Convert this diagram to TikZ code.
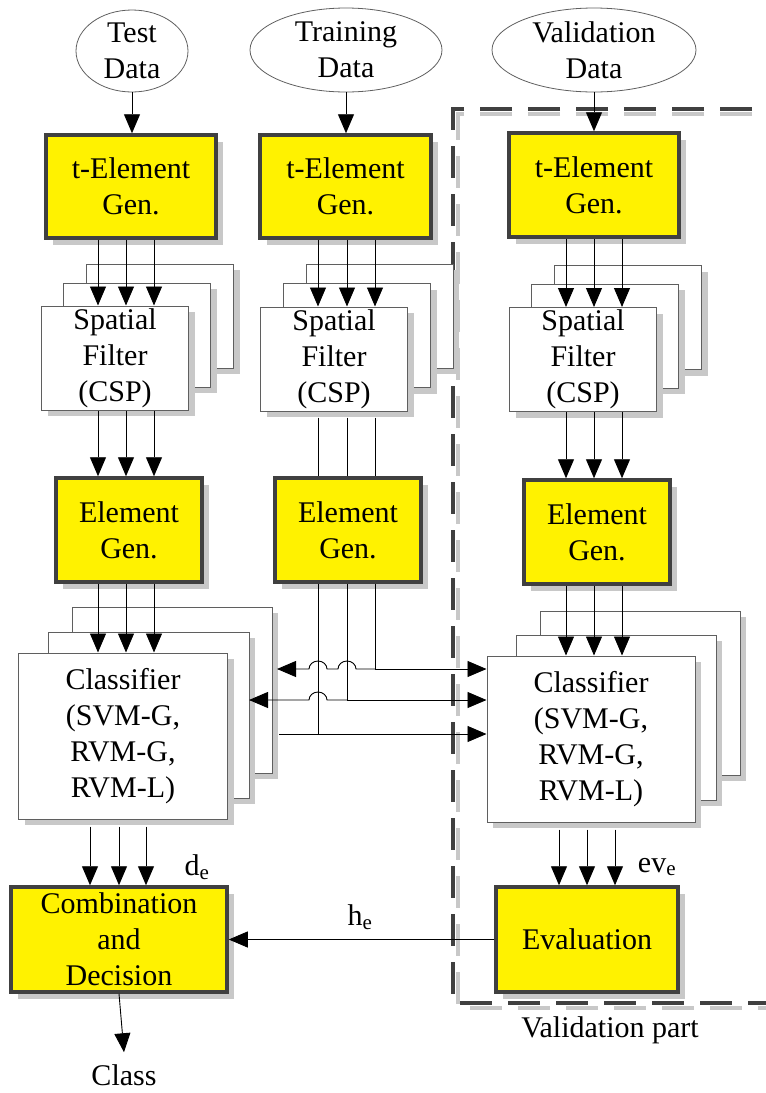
\documentclass[tikz,border=0pt]{standalone}
\usepackage{fontspec}
\setmainfont{Liberation Serif}
\newfontfamily\lserif{Liberation Serif}
\usetikzlibrary{arrows.meta,shapes.geometric,shadows,calc}
\definecolor{dgray}{RGB}{64,64,64}
\definecolor{shad}{RGB}{200,200,200}
\definecolor{bgray}{RGB}{95,95,95}
\begin{document}
\begin{tikzpicture}[x=1pt,y=-1pt,
  every node/.style={font=\lserif\fontsize{30}{36}\selectfont},
  ell/.style={ellipse, draw=bgray, line width=0.8pt, align=center, inner sep=0pt, inner ysep=-6pt},
  ybox/.style={rectangle, draw=dgray, line width=3.5pt, fill=yellow, align=center, inner sep=0pt,
    drop shadow={shadow xshift=7pt,shadow yshift=-7pt,fill=shad,opacity=1}},
  wbox/.style={rectangle, draw=bgray, line width=1pt, fill=white, align=center, inner sep=0pt,
    drop shadow={shadow xshift=6pt,shadow yshift=-6pt,fill=shad,opacity=1}},
  ln/.style={line width=0.9pt},
  arr/.style={line width=0.9pt, -{Triangle[length=19pt,width=16pt]}},
  lbl/.style={inner sep=0pt},
  vframe/.style={dgray, line width=4pt, dash pattern=on 32pt off 16pt},
  vframeshadow/.style={shad, line width=4pt, dash pattern=on 32pt off 16pt}
]
\useasboundingbox (0,0) rectangle (766,1093);

% validation frame
\draw[vframeshadow] (800,114) -- (458,114) -- (458,1008) -- (800,1008);
\draw[vframe] (800,109) -- (453,109) -- (453,1003) -- (800,1003);
\node[lbl] (vpart) at (610,1030) {Validation part};

% column coordinates
\coordinate (cT1) at (98,0);  \coordinate (cT2) at (126,0); \coordinate (cT3) at (154,0);
\coordinate (cR1) at (318,0); \coordinate (cR2) at (347,0); \coordinate (cR3) at (375,0);
\coordinate (cV1) at (566,0); \coordinate (cV2) at (594,0); \coordinate (cV3) at (622,0);
\coordinate (dT1) at (90,0);  \coordinate (dT2) at (119,0); \coordinate (dT3) at (146,0);
\coordinate (dV1) at (559,0); \coordinate (dV2) at (587,0); \coordinate (dV3) at (615,0);
\coordinate (r1) at (0,669); \coordinate (r2) at (0,700); \coordinate (r3) at (0,734);
\coordinate (L1) at (277,669); \coordinate (L2) at (249,700); \coordinate (L3) at (279,734);

% data ellipses
\node[ell, minimum width=112pt, minimum height=82pt] (eT) at (132,51) {Test\\Data};
\node[ell, minimum width=192pt, minimum height=84pt] (eR) at (346,50) {Training\\Data};
\node[ell, minimum width=204pt, minimum height=84pt] (eV) at (594,50) {Validation\\Data};

% t-Element Gen
\node[ybox, minimum width=170pt, minimum height=103pt] (tT) at (131,186.5) {t-Element\\Gen.};
\node[ybox, minimum width=171pt, minimum height=103pt] (tR) at (345.5,186.5) {t-Element\\Gen.};
\node[ybox, minimum width=170pt, minimum height=104pt] (tV) at (594,185) {t-Element\\Gen.};

% spatial filter stacks
\node[wbox, minimum width=147pt, minimum height=104pt] (spT1) at (160,316) {};
\node[wbox, minimum width=147pt, minimum height=104pt] (spT2) at (137,335) {};
\node[wbox, minimum width=147pt, minimum height=104pt] (spT3) at (115,358) {Spatial\\Filter\\(CSP)};
\node[wbox, minimum width=147pt, minimum height=104pt] (spR1) at (379.5,316) {};
\node[wbox, minimum width=147pt, minimum height=104pt] (spR2) at (357,335.5) {};
\node[wbox, minimum width=147pt, minimum height=104pt] (spR3) at (334,359) {Spatial\\Filter\\(CSP)};
\node[wbox, minimum width=147pt, minimum height=104pt] (spV1) at (628,317.5) {};
\node[wbox, minimum width=147pt, minimum height=104pt] (spV2) at (605,336) {};
\node[wbox, minimum width=147pt, minimum height=104pt] (spV3) at (583,359.5) {Spatial\\Filter\\(CSP)};

% Element Gen
\node[ybox, minimum width=146pt, minimum height=104pt] (gT) at (129,530) {Element\\Gen.};
\node[ybox, minimum width=146pt, minimum height=104pt] (gR) at (348,530) {Element\\Gen.};
\node[ybox, minimum width=146pt, minimum height=104pt] (gV) at (597,532) {Element\\Gen.};

% classifier stacks
\node[wbox, minimum width=200pt, minimum height=166pt] (clT1) at (172,690) {};
\node[wbox, minimum width=201pt, minimum height=166pt] (clT2) at (148.5,715) {};
\node[wbox, minimum width=209pt, minimum height=166pt] (clT3) at (123,736) {Classifier\\(SVM-G,\\RVM-G,\\RVM-L)};
\node[wbox, minimum width=200pt, minimum height=164pt] (clV1) at (640,693) {};
\node[wbox, minimum width=200pt, minimum height=165pt] (clV2) at (616,717.5) {};
\node[wbox, minimum width=208pt, minimum height=166pt] (clV3) at (591,739) {Classifier\\(SVM-G,\\RVM-G,\\RVM-L)};

% bottom boxes
\node[ybox, minimum width=216pt, minimum height=105pt] (comb) at (119,939.5) {Combination\\and\\Decision};
\node[ybox, minimum width=182pt, minimum height=105pt] (eval) at (587,939.5) {Evaluation};
\node[lbl] (cls) at (124,1075) {Class};

% labels
\node[lbl] (de) at (197,867) {d\textsubscript{e}};
\node[lbl] (eve) at (657,867) {ev\textsubscript{e}};
\node[lbl] (he) at (360,917) {h\textsubscript{e}};

% data -> t-Element
\draw[arr] (eT.south) -- (eT.south |- tT.north);
\draw[arr] (eR.south) -- (eR.south |- tR.north);
\draw[arr] (eV.south) -- (eV.south |- tV.north);

% t-Element -> spatial
\foreach \c in {cT1,cT2,cT3} \draw[arr] (\c |- tT.south) -- (\c |- spT3.north);
\foreach \c in {cR1,cR2,cR3} \draw[arr] (\c |- tR.south) -- (\c |- spR3.north);
\foreach \c in {cV1,cV2,cV3} \draw[arr] (\c |- tV.south) -- (\c |- spV3.north);

% spatial -> Element
\foreach \c in {cT1,cT2,cT3} \draw[arr] (\c |- spT3.south) -- (\c |- gT.north);
\foreach \c in {cR1,cR2,cR3} \draw[ln] ($(\c |- spR3.south)+(0,6)$) -- (\c |- gR.north);
\foreach \c in {cV1,cV2,cV3} \draw[arr] (\c |- spV3.south) -- (\c |- gV.north);

% Element -> classifier
\foreach \c in {cT1,cT2,cT3} \draw[arr] (\c |- gT.south) -- (\c |- clT3.north);
\foreach \c in {cV1,cV2,cV3} \draw[arr] (\c |- gV.south) -- (\c |- clV3.north);

% training element outputs to both classifiers
\draw[ln] (cR3 |- gR.south) -- (cR3 |- r1);
\draw[arr] (cR3 |- r1) -- (clV3.west |- r1);
\draw[arr] (cR3 |- r1) -- ($(cR2 |- r1)+(9,0)$) arc[start angle=0,end angle=180,x radius=9pt,y radius=8pt]
  -- ($(cR1 |- r1)+(9,0)$) arc[start angle=0,end angle=180,x radius=9pt,y radius=8pt] -- (L1);
\draw[ln] (cR2 |- gR.south) -- (cR2 |- r2);
\draw[arr] (cR2 |- r2) -- (clV3.west |- r2);
\draw[arr] (cR2 |- r2) -- ($(cR1 |- r2)+(9,0)$) arc[start angle=0,end angle=180,x radius=9pt,y radius=8pt] -- (L2);
\draw[ln] (cR1 |- gR.south) -- (cR1 |- r3);
\draw[arr] (L3) -- (clV3.west |- r3);

% classifier -> combination / evaluation
\foreach \c in {dT1,dT2,dT3} \draw[arr] ($(\c |- clT3.south)+(0,7)$) -- (\c |- comb.north);
\foreach \c in {dV1,dV2,dV3} \draw[arr] ($(\c |- clV3.south)+(0,7)$) -- (\c |- eval.north);

% evaluation -> combination
\draw[arr] (eval.west) -- (comb.east);
% combination -> class
\draw[arr] (comb.south) -- ([yshift=12pt]cls.north);
\end{tikzpicture}
\end{document}
